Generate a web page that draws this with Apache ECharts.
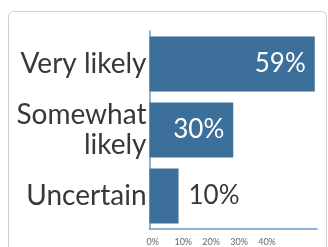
<!DOCTYPE html>
<html>
<head>
<meta charset="utf-8">
<script src="https://cdn.jsdelivr.net/npm/echarts@6/dist/echarts.min.js"></script>
<style>
  html, body { margin: 0; padding: 0; background: #fff; }
  #chart { width: 328px; height: 247px; }
</style>
</head>
<body>
<div id="chart"></div>
<script>
  // answers and shares (%)
  const categories = ['Very likely', 'Somewhat\nlikely', 'Uncertain']
  const values = [59.2, 30, 10.4]
  const insideLabel = [true, true, false]

  const barColor = '#3c6f99'
  const axisColor = '#6b9bc6'

  const chart = echarts.init(document.getElementById('chart'))

  const option = {
    animation: false,
    graphic: [
      {
        type: 'rect',
        shape: { x: 8.5, y: 11.5, width: 318, height: 260, r: 5 },
        style: { fill: 'none', stroke: '#cfcfcf', lineWidth: 1 },
        z: -1
      }
    ],
    grid: { left: 149.5, right: 11, top: 31, bottom: 9 },
    xAxis: {
      type: 'value',
      min: 0,
      max: 60,
      interval: 10,
      splitLine: { show: false },
      axisLine: { show: true, lineStyle: { color: axisColor, width: 1.5 } },
      axisTick: { show: false },
      axisLabel: {
        color: '#666',
        fontSize: 9,
        fontFamily: 'Lato',
        margin: 9,
        align: 'left',
        padding: [0, 0, 0, -3],
        formatter: v => (v <= 40 ? v + '%' : '')
      }
    },
    yAxis: {
      type: 'category',
      inverse: true,
      data: categories,
      axisLine: { show: true, lineStyle: { color: axisColor, width: 1.5 } },
      axisTick: { show: false },
      axisLabel: {
        color: '#383838',
        fontSize: 28,
        fontFamily: 'Lato',
        lineHeight: 30,
        margin: 3,
        align: 'right'
      }
    },
    series: [
      {
        type: 'bar',
        barCategoryGap: '17%',
        itemStyle: { color: barColor },
        data: values.map((v, i) => ({
          value: v,
          label: insideLabel[i]
            ? { position: 'insideRight', color: '#fff', distance: 9 }
            : { position: 'right', color: '#383838', distance: 10 }
        })),
        label: {
          show: true,
          fontSize: 26,
          fontFamily: 'Lato',
          formatter: p => Math.round(p.value) + '%'
        }
      }
    ]
  }

  chart.setOption(option)
</script>
</body>
</html>
